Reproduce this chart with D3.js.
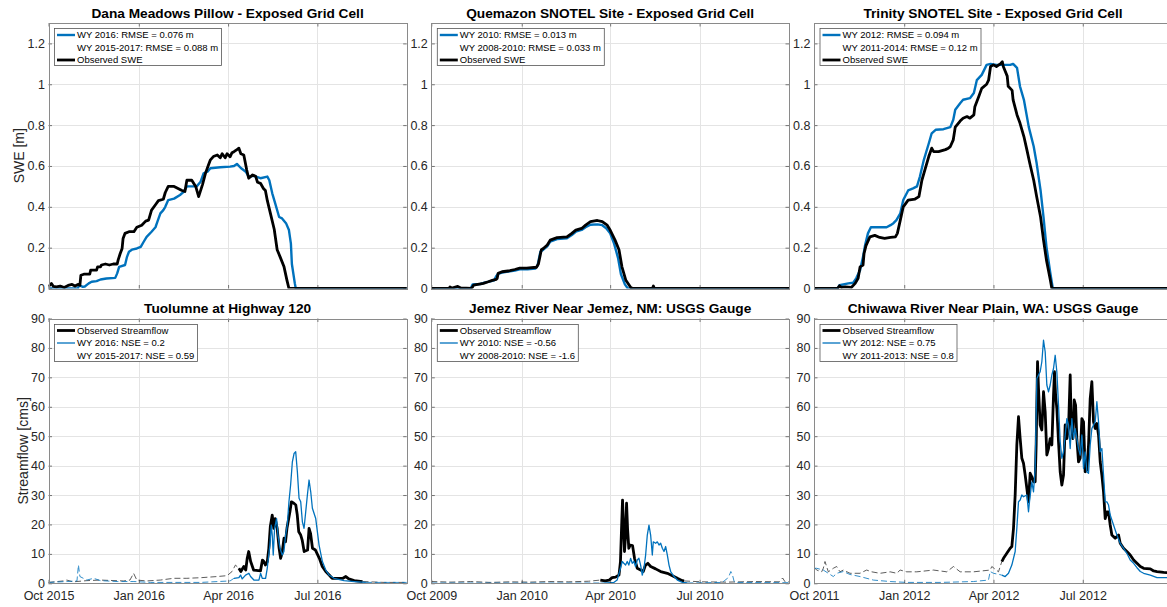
<!DOCTYPE html>
<html>
<head>
<meta charset="utf-8">
<script src="https://cdn.jsdelivr.net/npm/d3@7"></script>
<style>
  body { margin: 0; background: #fff; }
  svg { display: block; font-family: "Liberation Sans", Arial, Helvetica, sans-serif; }
</style>
</head>
<body>
<svg id="fig" width="1167" height="607"></svg>
<script>
// ---- Axis ticks -------------------------------------------------------
const sweTicks = [0, 0.2, 0.4, 0.6, 0.8, 1, 1.2];
const flowTicks = [0, 10, 20, 30, 40, 50, 60, 70, 80, 90];
const danaDates = ["2015-10-01", "2016-01-01", "2016-04-01", "2016-07-01"];
const quemazonDates = ["2009-10-01", "2010-01-01", "2010-04-01", "2010-07-01"];
const trinityDates = ["2011-10-01", "2012-01-01", "2012-04-01", "2012-07-01"];

// ---- Titles and legend labels -----------------------------------------
const titles = [
  "Dana Meadows Pillow - Exposed Grid Cell",
  "Quemazon SNOTEL Site - Exposed Grid Cell",
  "Trinity SNOTEL Site - Exposed Grid Cell",
  "Tuolumne at Highway 120",
  "Jemez River Near Jemez, NM: USGS Gauge",
  "Chiwawa River Near Plain, WA: USGS Gauge"
];
const sweLegends = [
  ["WY 2016: RMSE = 0.076 m", "WY 2015-2017: RMSE = 0.088 m", "Observed SWE"],
  ["WY 2010: RMSE = 0.013 m", "WY 2008-2010: RMSE = 0.033 m", "Observed SWE"],
  ["WY 2012: RMSE = 0.094 m", "WY 2011-2014: RMSE = 0.12 m", "Observed SWE"]
];
const flowLegends = [
  ["Observed Streamflow", "WY 2016: NSE = 0.2", "WY 2015-2017: NSE = 0.59"],
  ["Observed Streamflow", "WY 2010: NSE = -0.56", "WY 2008-2010: NSE = -1.6"],
  ["Observed Streamflow", "WY 2012: NSE = 0.75", "WY 2011-2013: NSE = 0.8"]
];

// ---- SWE series: [day of water year, SWE in m] -------------------------
const danaObs = [[0,0.01],[3,0.025],[5,0.01],[8,0.008],[12,0.012],[16,0.005],[20,0.015],[24,0.02],[27,0.012],[30,0.02],[32,0.016],[33,0.065],[36,0.07],[42,0.07],[43,0.09],[49,0.09],[50,0.106],[53,0.106],[54,0.115],[58,0.12],[62,0.115],[66,0.12],[70,0.12],[71,0.14],[73,0.17],[75,0.196],[76,0.245],[78,0.27],[82,0.278],[87,0.278],[90,0.30],[95,0.31],[99,0.33],[102,0.335],[105,0.384],[109,0.41],[112,0.43],[117,0.437],[119,0.47],[122,0.50],[128,0.50],[136,0.48],[139,0.475],[141,0.53],[146,0.53],[150,0.50],[153,0.45],[157,0.51],[160,0.565],[163,0.605],[165,0.63],[168,0.646],[172,0.654],[175,0.64],[177,0.66],[180,0.64],[182,0.66],[185,0.645],[187,0.665],[189,0.67],[192,0.68],[194,0.687],[196,0.66],[199,0.654],[202,0.58],[204,0.54],[208,0.556],[211,0.55],[213,0.52],[216,0.515],[219,0.49],[221,0.48],[223,0.43],[226,0.37],[230,0.29],[233,0.19],[236,0.155],[240,0.106],[243,0.04],[245,0],[366,0]];
const danaMod = [[0,0],[30,0],[31,0.016],[35,0.008],[37,0.01],[41,0.025],[44,0.033],[49,0.036],[53,0.044],[59,0.049],[68,0.052],[70,0.074],[72,0.106],[78,0.115],[80,0.155],[82,0.18],[85,0.19],[90,0.196],[94,0.204],[97,0.229],[100,0.253],[105,0.278],[109,0.30],[111,0.327],[114,0.368],[117,0.384],[119,0.40],[122,0.433],[128,0.44],[134,0.458],[138,0.474],[141,0.50],[151,0.50],[155,0.523],[158,0.564],[162,0.572],[165,0.589],[175,0.594],[185,0.597],[189,0.60],[192,0.61],[196,0.59],[201,0.572],[204,0.548],[209,0.552],[216,0.54],[223,0.548],[225,0.53],[228,0.466],[231,0.417],[235,0.35],[238,0.343],[242,0.32],[245,0.286],[247,0.22],[248,0.12],[251,0.025],[252,0],[366,0]];
const quemazonObs = [[0,0],[18,0],[19,0.008],[21,0.002],[27,0.01],[30,0.003],[41,0],[43,0.016],[53,0.025],[58,0.033],[62,0.04],[66,0.045],[67,0.049],[68,0.074],[72,0.082],[80,0.087],[85,0.093],[90,0.1],[97,0.1],[107,0.104],[109,0.12],[112,0.19],[114,0.196],[118,0.213],[121,0.237],[128,0.249],[138,0.253],[143,0.27],[147,0.286],[153,0.294],[157,0.31],[162,0.327],[169,0.333],[174,0.327],[179,0.31],[182,0.286],[187,0.237],[191,0.19],[194,0.106],[198,0.04],[203,0.005],[205,0],[225,0],[226,0.012],[227,0],[366,0]];
const quemazonMod = [[0,0],[40,0],[42,0.02],[50,0.022],[55,0.03],[60,0.035],[64,0.04],[66,0.06],[68,0.072],[72,0.078],[80,0.084],[85,0.088],[90,0.094],[98,0.094],[106,0.098],[108,0.11],[111,0.18],[114,0.19],[118,0.206],[121,0.23],[128,0.242],[138,0.246],[143,0.262],[147,0.278],[153,0.287],[157,0.3],[162,0.312],[169,0.314],[174,0.31],[178,0.295],[182,0.27],[186,0.22],[190,0.15],[193,0.07],[197,0.02],[200,0],[366,0]];
const trinityObs = [[0,0],[24,0],[26,0.013],[28,0.005],[32,0.008],[38,0.005],[42,0.025],[45,0.05],[47,0.106],[50,0.115],[51,0.17],[53,0.21],[57,0.253],[62,0.26],[67,0.25],[72,0.245],[78,0.25],[83,0.253],[85,0.27],[88,0.335],[91,0.40],[96,0.433],[103,0.438],[107,0.45],[110,0.53],[113,0.58],[117,0.646],[120,0.687],[122,0.67],[127,0.67],[134,0.68],[137,0.687],[139,0.695],[142,0.728],[144,0.79],[149,0.82],[152,0.834],[156,0.842],[159,0.834],[163,0.85],[164,0.89],[168,0.94],[171,0.98],[176,1.0],[178,1.02],[180,1.087],[183,1.095],[186,1.087],[190,1.1],[192,1.11],[193,1.087],[197,1.04],[198,0.99],[202,0.97],[203,0.924],[207,0.85],[210,0.81],[214,0.744],[217,0.68],[220,0.613],[224,0.53],[227,0.45],[231,0.35],[234,0.237],[237,0.139],[241,0.04],[242.5,0],[366,0]];
const trinityMod = [[0,0],[24,0],[26,0.016],[35,0.025],[40,0.028],[43,0.05],[47,0.09],[50,0.155],[52,0.21],[55,0.27],[58,0.30],[62,0.30],[74,0.30],[78,0.31],[81,0.32],[84,0.335],[88,0.368],[91,0.433],[96,0.48],[101,0.49],[105,0.5],[108,0.548],[112,0.63],[117,0.71],[120,0.76],[124,0.777],[132,0.78],[139,0.79],[142,0.826],[144,0.875],[149,0.907],[152,0.924],[159,0.932],[163,0.957],[166,1.02],[171,1.046],[176,1.095],[180,1.10],[186,1.095],[193,1.095],[200,1.095],[203,1.10],[207,1.08],[210,0.99],[214,0.924],[219,0.79],[224,0.695],[227,0.613],[231,0.48],[234,0.35],[237,0.204],[241,0.074],[243.5,0],[366,0]];

// ---- Streamflow series: [day of water year, flow in cms] ---------------
const tuolumneObs = [[194,5.1],[196,4],[199,5.7],[201,4.5],[202.5,8.5],[204,10.8],[206,7.4],[209,4.5],[216,4.2],[218,7.9],[219.5,7.4],[221,6.2],[223,7.4],[224.5,11.9],[226,19.2],[228,23.2],[229.5,18.7],[231,22],[233,18.7],[235,11.9],[236.5,8.5],[238,10.2],[240,15.3],[241.5,14.1],[243,18.7],[246,24.3],[247.5,27.7],[250,27.2],[252,26.6],[253.5,23.2],[255,17.5],[257,16.4],[258.5,14.7],[260.5,10.8],[264,11.3],[265.5,18.7],[267,17],[269,11.9],[272,11.3],[276,8.5],[279,5.7],[282.5,4],[286,2.8],[289,1.7],[300,1.7],[303,2.3],[306,1.5],[311.5,0.9],[320,0.6]];
const tuolumneObsOut = [[0,0.3],[15,0.8],[18.6,1.1],[25,0.5],[39,0.9],[52.6,1.1],[76.5,0.8],[83,1.1],[86.7,3.4],[90,1.1],[100,0.8],[114,1.1],[127.5,1.7],[141,1.7],[155,1.9],[172,2.3],[182,2.6],[187,4],[190.5,6.2],[194,5.1],null,[320,0.6],[342,0.3],[366,0.3]];
const tuolumneMod = [[189,1.7],[194,1.9],[195.7,2.8],[197.4,1.5],[200.8,2.8],[204.2,3.4],[205.9,2.3],[209.3,1.1],[214.4,1.1],[216.1,3.4],[217.8,1.7],[221.2,1.7],[222.9,5.1],[225.6,13],[227,19.8],[228,16.4],[229,9.6],[230.4,18.7],[232.4,22],[233.8,16.4],[235.9,11.9],[238.2,9.6],[239.9,10.8],[241.6,16.4],[243.3,19.8],[245,27.7],[246.7,33.4],[248.5,41.3],[250.2,44.1],[251.9,44.7],[253.6,37.9],[255.3,28.9],[257,27.7],[258.7,20.9],[260.4,18.7],[262.1,24.3],[263.8,30],[265.5,35.1],[267.2,31.1],[268.9,25.5],[272.3,22],[275.7,13],[279.1,7.4],[282.5,4.5],[285.9,2.8],[291,1.7],[301.2,0.9],[311.5,0.6],[323.4,0.3]];
const tuolumneModOut = [[0,0.3],[19,0.6],[29,0.8],[30.5,6.2],[32,2.3],[39,1.1],[46,1.7],[53,0.9],[70,0.6],[87,0.6],[104,0.3],[155,0.3],[185,0.8],[189,1.7],null,[323.4,0.3],[366,0.3]];

const jemezObs = [[172,1.1],[177,0.8],[181,1.1],[184,1.9],[187.5,2.1],[191,2.8],[192.5,7.4],[193.6,18.7],[194.6,28.3],[195.6,19.8],[196.6,10.8],[197.7,16.4],[198.7,27.2],[199.7,18.7],[201,11.9],[202.4,13],[204.8,12.8],[206.8,8.5],[209.6,5.1],[213,4.5],[215.7,4],[218,6.2],[220.4,6.8],[223.2,5.7],[228.3,4.9],[233.4,4],[240.2,3.4],[245.3,2.6],[250.4,1.7],[255.5,0.9],[257.2,0.8]];
const jemezObsOut = [[0,0.6],[20,0.4],[40,0.6],[60,0.3],[80,0.5],[100,0.4],[120,0.6],[140,0.5],[160,0.7],[172,1.1],null,[257.2,0.8],[275,0.5],[300,0.4],[330,0.6],[354,0.5],[357.5,1.8],[360,0.5],[365,0.5]];
const jemezMod = [[172,0],[185.7,0.3],[189.1,1.1],[192.5,5.1],[194.3,7.4],[195.9,6.8],[197.7,6.2],[199.4,7.4],[201,6.2],[202.8,8.5],[204.5,6.8],[206.2,7.4],[207.8,5.7],[209.6,7.9],[211.3,8.5],[213,6.2],[214.7,2.8],[216.4,5.1],[218.1,9.6],[219.8,16.4],[221.5,19.8],[223.2,16.4],[224.9,9.6],[225.9,14.1],[228.3,13.6],[230,14.1],[231.7,13],[233.4,13.6],[235.1,11.9],[236.8,10.8],[238.5,12.5],[240.2,9.6],[241.9,6.2],[243.6,4],[247,2.3],[250.4,1.1],[255.5,0.3],[260.6,0.1]];
const jemezModOut = [[0,0.1],[172,0.1],null,[260.6,0.1],[296,0.3],[298,0.8],[301.4,1.7],[303,2.5],[304.8,4],[306.5,2.8],[308.2,0.6],[311.6,0.3],[365,0.2]];

const chiwawaObs = [[191.5,7.4],[193.2,8.5],[196.6,10.2],[200,11.9],[201.7,12.5],[203.4,18.7],[205.1,30],[206.8,47],[208.5,56.6],[210.2,49.2],[211.9,42.5],[213.6,40.8],[215.3,36.8],[217,32.3],[218.7,27.7],[220.4,37.4],[222.1,36.2],[223.8,34.5],[225.5,34.5],[226.5,47],[227.9,75.3],[228.9,66.2],[230.6,53.8],[232.3,52.1],[234,65.1],[235.7,58.3],[237.4,43.6],[239.1,45.8],[240.8,49.2],[242.5,47],[244.2,64],[245.2,71.9],[246.3,64],[247.6,59.4],[249.3,48.1],[251,37.9],[252.7,33.4],[254.4,36.8],[256.1,53.8],[257.8,49.2],[259.5,52.6],[261.2,70.8],[262.2,54.9],[263.9,49.2],[265.3,62.3],[266.7,60.6],[268,49.2],[269.7,41.3],[271.4,42.5],[273.1,56],[274.8,54.9],[276.5,37.9],[278.2,38.5],[279.9,47],[281.6,62.8],[283.3,68.5],[285,54.9],[286.7,52.6],[288.4,54.3],[290.1,50.4],[291.8,41.3],[293.5,36.8],[295.2,31.1],[296.9,22],[298.6,24.3],[300.3,24.3],[302,19.8],[303.7,16.4],[307.1,15.3],[310.5,16.4],[312.2,13.6],[315.6,11.9],[319,10.8],[322.4,9.6],[325.9,7.9],[329.3,6.8],[332.7,5.7],[336.1,5.1],[342.9,4.9],[346.3,4.2],[349.7,4],[356.5,3.7],[366,3.5]];
const chiwawaObsOut = [[0,5.5],[2.7,4.5],[7.8,3.9],[9.5,5.1],[11.2,7.4],[14.6,3.9],[19.7,5.1],[23.1,5.7],[26.5,3.9],[29.9,4.5],[36.7,3.4],[46.9,3.4],[53.7,4.5],[58.8,3.9],[67.3,3.4],[77.6,3.9],[84.4,3.4],[87.8,4.5],[94.6,3.9],[104.8,3.9],[121.8,4.5],[135.4,3.9],[142.2,5.7],[149,3.9],[162.6,3.9],[179.6,4.5],[181.3,5.7],[188.1,3.9],[191.5,7.4]];
const chiwawaMod = [[191.5,2.8],[194.9,2.3],[198.3,3.4],[201.7,6.2],[205.1,10.8],[206.8,18.7],[208.5,27.7],[210.2,28.3],[211.9,30],[213.6,29.4],[217,30],[218.7,24.3],[219.7,27.7],[222.1,34.5],[223.8,31.1],[225.5,39],[227.2,69.6],[228.9,70.8],[230.6,71.9],[232.3,75.3],[234,82.6],[235.7,78.7],[237.4,67.4],[239.1,65.1],[240.8,67.4],[242.5,70.8],[244.2,73],[245.9,77.5],[247.6,71.9],[249.3,60.6],[251,48.1],[252.7,42.5],[254.4,44.7],[256.1,50.4],[257.8,56],[259.5,53.8],[261.2,45.8],[262.9,56],[264.6,49.2],[266.3,52.6],[268,49.2],[269.7,45.8],[271.4,43.6],[273.1,50.4],[274.8,39],[276.5,44.7],[278.2,37.9],[279.9,37.4],[281.6,47],[283.3,52.6],[285,53.8],[286.7,54.9],[288.4,61.7],[290.1,54.9],[291.8,44.7],[293.5,45.8],[295.2,36.8],[296.9,27.7],[298.6,27.7],[300.3,26.6],[302,23.2],[305.4,19.8],[308.8,16.4],[312.2,13.6],[315.6,11.9],[319,10.2],[322.4,7.9],[325.9,6.8],[329.3,5.3],[332.7,4],[336.1,3.4],[342.9,2.8],[349.7,1.9],[356.5,1.9],[366,1.9]];
const chiwawaModOut = [[0,5.1],[2.7,5.1],[9.5,4.5],[19.7,2.3],[23.1,3.4],[29.9,4],[36.7,3],[46.9,2.3],[60.5,1.1],[77.6,0.6],[94.6,0.3],[128.6,0.3],[162.6,0.6],[177.9,1.1],[179.6,4],[183,3.4],[191.5,2.8]];

// ---- Figure layout ----------------------------------------------------
const BLUE = "#0072BD";
const colX = [[48.5, 406.7], [431.3, 789], [814, 1172]];
const rowY = [[23, 288.5], [318.5, 583.3]];
const svg = d3.select("#fig");
const fmtDate = d3.utcFormat("%b %Y");

const panels = [
  { r: 0, c: 0, dates: danaDates, yMax: 1.3, yTicks: sweTicks, lines: [
      { data: danaMod, color: BLUE, w: 2.4 }, { data: danaObs, color: "#000", w: 2.8 } ] },
  { r: 0, c: 1, dates: quemazonDates, yMax: 1.3, yTicks: sweTicks, lines: [
      { data: quemazonMod, color: BLUE, w: 2.4 }, { data: quemazonObs, color: "#000", w: 2.8 } ] },
  { r: 0, c: 2, dates: trinityDates, yMax: 1.3, yTicks: sweTicks, lines: [
      { data: trinityMod, color: BLUE, w: 2.4 }, { data: trinityObs, color: "#000", w: 2.8 } ] },
  { r: 1, c: 0, dates: danaDates, yMax: 90, yTicks: flowTicks, lines: [
      { data: tuolumneObsOut, color: "#333", w: 0.8, dash: "6,3" },
      { data: tuolumneModOut, color: BLUE, w: 0.8, dash: "6,3" },
      { data: tuolumneObs, color: "#000", w: 2.8 }, { data: tuolumneMod, color: BLUE, w: 1.3 } ] },
  { r: 1, c: 1, dates: quemazonDates, yMax: 90, yTicks: flowTicks, lines: [
      { data: jemezObsOut, color: "#333", w: 0.8, dash: "6,3" },
      { data: jemezModOut, color: BLUE, w: 0.8, dash: "6,3" },
      { data: jemezObs, color: "#000", w: 2.8 }, { data: jemezMod, color: BLUE, w: 1.3 } ] },
  { r: 1, c: 2, dates: trinityDates, yMax: 90, yTicks: flowTicks, lines: [
      { data: chiwawaObsOut, color: "#333", w: 0.8, dash: "6,3" },
      { data: chiwawaModOut, color: BLUE, w: 0.8, dash: "6,3" },
      { data: chiwawaObs, color: "#000", w: 2.8 }, { data: chiwawaMod, color: BLUE, w: 1.3 } ] }
];

panels.forEach((p, i) => {
  const [x0, x1] = colX[p.c];
  const [y0, y1] = rowY[p.r];
  const start = new Date(p.dates[0] + "T00:00:00Z");
  const end = d3.utcDay.offset(d3.utcYear.offset(start, 1), -1);
  const x = d3.scaleUtc().domain([start, end]).range([x0, x1]);
  const y = d3.scaleLinear().domain([0, p.yMax]).range([y1, y0]);
  const tickDates = p.dates.map(s => new Date(s + "T00:00:00Z"));
  const toDate = d => d3.utcDay.offset(start, 0).getTime() + d * 864e5;

  const g = svg.append("g");
  g.append("rect").attr("x", x0).attr("y", y0).attr("width", x1 - x0).attr("height", y1 - y0).attr("fill", "#fff");

  // grid
  g.append("g").selectAll("line").data(tickDates).join("line")
    .attr("x1", d => Math.round(x(d)) + 0.5).attr("x2", d => Math.round(x(d)) + 0.5)
    .attr("y1", y0).attr("y2", y1).attr("stroke", "#e4e4e4");
  g.append("g").selectAll("line").data(p.yTicks).join("line")
    .attr("x1", x0).attr("x2", x1)
    .attr("y1", d => Math.round(y(d)) + 0.5).attr("y2", d => Math.round(y(d)) + 0.5).attr("stroke", "#e4e4e4");

  // data lines
  const clipId = "clip" + i;
  svg.append("clipPath").attr("id", clipId).append("rect")
    .attr("x", x0).attr("y", y0).attr("width", x1 - x0).attr("height", y1 - y0);
  const line = d3.line().defined(d => d !== null)
    .x(d => x(new Date(toDate(d[0])))).y(d => y(d[1]));
  const lg = g.append("g").attr("clip-path", `url(#${clipId})`);
  p.lines.forEach(l => {
    lg.append("path").attr("d", line(l.data)).attr("fill", "none")
      .attr("stroke", l.color).attr("stroke-width", l.w)
      .attr("stroke-linejoin", "round").attr("stroke-dasharray", l.dash || null);
  });

  // axes with inward ticks
  const axStyle = a => {
    a.select(".domain").remove();
    a.selectAll(".tick line").attr("stroke", "#262626").attr("stroke-width", 0.6);
    a.selectAll("text").attr("fill", "#262626").attr("font-size", "12.5px")
      .attr("font-family", "'Liberation Sans', Arial, sans-serif");
  };
  g.append("g").attr("transform", `translate(${x0},0)`)
    .call(d3.axisLeft(y).tickValues(p.yTicks).tickSize(-3.5).tickPadding(3.5).tickFormat(d => String(d)))
    .call(axStyle);
  g.append("g").attr("transform", `translate(${x1},0)`)
    .call(d3.axisRight(y).tickValues(p.yTicks).tickSize(-3.5).tickFormat(""))
    .call(axStyle);
  g.append("g").attr("transform", `translate(0,${y1})`)
    .call(d3.axisBottom(x).tickValues(tickDates).tickSize(-3.5).tickPadding(7.8)
      .tickFormat(p.r === 1 ? fmtDate : ""))
    .call(axStyle);
  g.append("g").attr("transform", `translate(0,${y0})`)
    .call(d3.axisTop(x).tickValues(tickDates).tickSize(-3.5).tickFormat(""))
    .call(axStyle);

  // box
  g.append("rect").attr("x", Math.round(x0) + 0.5).attr("y", Math.round(y0) + 0.5)
    .attr("width", Math.round(x1) - Math.round(x0)).attr("height", Math.round(y1) - Math.round(y0))
    .attr("fill", "none").attr("stroke", "#8a8a8a").attr("stroke-width", 1);

  // title
  g.append("text").attr("x", (x0 + x1) / 2).attr("y", y0 - 5.5)
    .attr("text-anchor", "middle").attr("font-weight", "bold").attr("font-size", "13.7px")
    .attr("fill", "#000").text(titles[i]);

  // legend
  const labels = p.r === 0 ? sweLegends[p.c] : flowLegends[p.c];
  const samples = p.r === 0
    ? [{ color: BLUE, w: 2.4 }, null, { color: "#000", w: 2.8 }]
    : [{ color: "#000", w: 2.8 }, { color: BLUE, w: 1.3 }, null];
  const bx = x0 + 5.5, by = y0 + 5;
  const leg = g.append("g");
  const box = leg.append("rect").attr("x", bx + 0.5).attr("y", Math.round(by) + 0.5)
    .attr("height", 37).attr("fill", "#fff").attr("stroke", "#555").attr("stroke-width", 0.8);
  let maxW = 0;
  labels.forEach((t, k) => {
    const cy = by + 7 + k * 12.5;
    if (samples[k]) {
      leg.append("line").attr("x1", bx + 3).attr("x2", bx + 21).attr("y1", cy).attr("y2", cy)
        .attr("stroke", samples[k].color).attr("stroke-width", samples[k].w);
    }
    const tx = leg.append("text").attr("x", bx + 23).attr("y", cy).attr("dy", "0.35em")
      .attr("font-size", "9.5px").attr("fill", "#000").text(t);
    maxW = Math.max(maxW, tx.node().getComputedTextLength());
  });
  box.attr("width", Math.round(23 + maxW + 3));
});

// y-axis labels
svg.append("text").attr("transform", `translate(23.5,${(rowY[0][0] + rowY[0][1]) / 2}) rotate(-90)`)
  .attr("text-anchor", "middle").attr("font-size", "14px").attr("fill", "#262626").text("SWE [m]");
svg.append("text").attr("transform", `translate(28,${(rowY[1][0] + rowY[1][1]) / 2}) rotate(-90)`)
  .attr("text-anchor", "middle").attr("font-size", "14px").attr("fill", "#262626").text("Streamflow [cms]");
</script>
</body>
</html>
